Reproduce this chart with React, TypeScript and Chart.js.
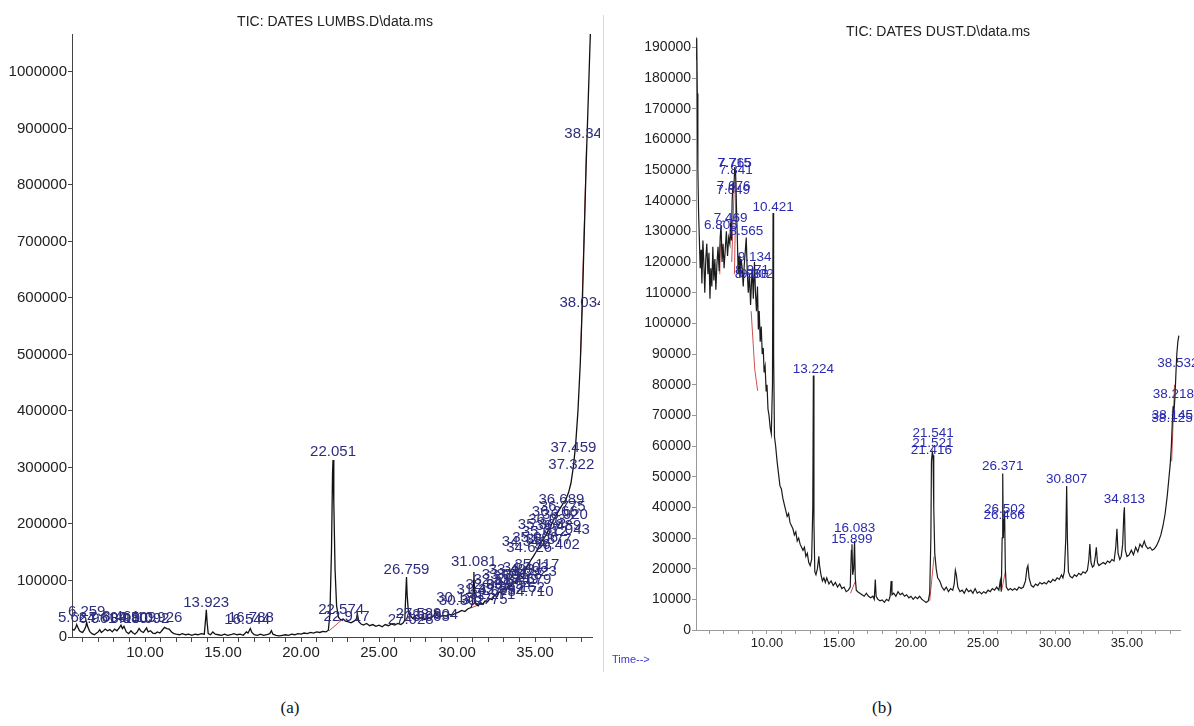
import React, { useEffect, useRef } from "react";
import { Chart, registerables } from "chart.js";
Chart.register(...registerables);

// ---------- tick values ----------
const lumbsYTicks = [0, 100000, 200000, 300000, 400000, 500000, 600000, 700000, 800000, 900000, 1000000];
const dustYTicks = [0, 10000, 20000, 30000, 40000, 50000, 60000, 70000, 80000, 90000, 100000, 110000, 120000,
  130000, 140000, 150000, 160000, 170000, 180000, 190000];
const timeTicks = [6, 7, 8, 9, 10, 11, 12, 13, 14, 15, 16, 17, 18, 19, 20, 21, 22, 23, 24, 25, 26, 27, 28, 29,
  30, 31, 32, 33, 34, 35, 36, 37, 38];
const timeLabelled = [10, 15, 20, 25, 30, 35];

// ---------- (a) TIC: DATES LUMBS ----------
const lumbsTitle = "TIC: DATES LUMBS.D\\data.ms";
const lumbsTrace: [number, number][] = [
  [5.32, 14000], [5.45, 12000], [5.55, 16000], [5.62, 22000], [5.7, 17000], [5.8, 11000], [5.9, 9000],
  [6.0, 8000], [6.1, 12000], [6.2, 18000], [6.26, 26000], [6.33, 18000], [6.45, 10000], [6.6, 6000],
  [6.75, 4000], [6.9, 7000], [7.0, 9000], [7.1, 13000], [7.2, 8000], [7.3, 10000], [7.45, 14000],
  [7.6, 11000], [7.75, 13000], [7.9, 9000], [8.05, 14000], [8.2, 11000], [8.35, 16000], [8.46, 21000],
  [8.55, 15000], [8.65, 19000], [8.8, 9000], [8.95, 6000], [9.1, 11000], [9.2, 8000], [9.35, 5000],
  [9.5, 9000], [9.62, 15000], [9.75, 10000], [9.9, 8000], [10.0, 12000], [10.1, 16000], [10.2, 9000],
  [10.35, 11000], [10.5, 7000], [10.65, 6000], [10.8, 9000], [10.95, 7000], [11.1, 12000], [11.25, 17000],
  [11.4, 15000], [11.55, 14000], [11.7, 9000], [11.85, 6000], [12.0, 5000], [12.2, 4000], [12.4, 6000],
  [12.6, 4000], [12.8, 5000], [13.0, 3000], [13.2, 5000], [13.4, 4000], [13.6, 6000], [13.8, 5000],
  [13.88, 30000], [13.93, 48000], [13.98, 26000], [14.05, 6000], [14.2, 4000], [14.35, 9000], [14.5, 5000],
  [14.7, 4000], [14.9, 3000], [15.1, 5000], [15.3, 3000], [15.5, 4000], [15.7, 6000], [15.9, 4000],
  [16.1, 5000], [16.3, 3000], [16.5, 9000], [16.6, 7000], [16.75, 15000], [16.85, 8000], [17.0, 4000],
  [17.2, 3000], [17.4, 5000], [17.6, 3000], [17.8, 4000], [18.0, 6000], [18.1, 11000], [18.2, 5000],
  [18.4, 3000], [18.6, 2000], [18.8, 3000], [19.0, 4000], [19.2, 3000], [19.4, 5000], [19.6, 4000],
  [19.8, 6000], [20.0, 5000], [20.2, 7000], [20.4, 6000], [20.6, 8000], [20.8, 7000], [21.0, 9000],
  [21.2, 8000], [21.4, 10000], [21.6, 9000], [21.75, 12000], [21.85, 40000], [21.95, 150000],
  [22.02, 290000], [22.05, 313000], [22.1, 240000], [22.18, 120000], [22.28, 55000], [22.4, 35000],
  [22.55, 30000], [22.7, 32000], [22.85, 28000], [23.0, 27000], [23.2, 25000], [23.4, 28000],
  [23.55, 32000], [23.62, 40000], [23.7, 27000], [23.85, 23000], [24.0, 21000], [24.2, 24000],
  [24.4, 20000], [24.6, 22000], [24.8, 19000], [25.0, 21000], [25.2, 18000], [25.4, 22000], [25.6, 20000],
  [25.8, 23000], [26.0, 21000], [26.2, 24000], [26.4, 22000], [26.55, 25000], [26.65, 30000],
  [26.72, 80000], [26.76, 106000], [26.8, 75000], [26.88, 45000], [27.0, 38000], [27.15, 33000],
  [27.3, 35000], [27.5, 32000], [27.7, 34000], [27.9, 31000], [28.1, 33000], [28.3, 35000], [28.5, 37000],
  [28.62, 45000], [28.7, 38000], [28.9, 36000], [29.1, 38000], [29.3, 37000], [29.5, 40000], [29.7, 39000],
  [29.9, 42000], [30.1, 44000], [30.3, 47000], [30.5, 45000], [30.7, 50000], [30.9, 52000], [31.0, 60000],
  [31.06, 100000], [31.08, 115000], [31.12, 80000], [31.2, 58000], [31.35, 55000], [31.5, 61000],
  [31.65, 58000], [31.8, 64000], [31.95, 62000], [32.1, 68000], [32.25, 66000], [32.4, 74000],
  [32.55, 71000], [32.7, 80000], [32.85, 77000], [33.0, 86000], [33.15, 83000], [33.3, 92000],
  [33.45, 89000], [33.6, 99000], [33.75, 96000], [33.9, 106000], [34.05, 110000], [34.2, 105000],
  [34.35, 115000], [34.45, 122000], [34.6, 130000], [34.75, 137000], [34.9, 143000], [35.05, 150000],
  [35.2, 158000], [35.35, 166000], [35.5, 172000], [35.65, 178000], [35.8, 186000], [35.95, 193000],
  [36.1, 202000], [36.25, 210000], [36.4, 218000], [36.55, 225000], [36.7, 232000], [36.85, 238000],
  [37.0, 245000], [37.15, 256000], [37.3, 272000], [37.45, 300000], [37.6, 340000], [37.75, 400000],
  [37.9, 485000], [38.03, 590000], [38.12, 680000], [38.2, 760000], [38.28, 840000], [38.35, 900000],
  [38.42, 960000], [38.5, 1030000], [38.56, 1080000],
];
const lumbsBaselines: [number, number | null][] = [
  [21.8, 11000], [22.6, 30000], [22.61, null],
  [26.68, 28000], [27.05, 37000], [27.06, null],
  [30.95, 52000], [31.3, 56000], [31.31, null],
  [37.92, 500000], [38.3, 870000],
];
const lumbsPeakLabels: [number, number, string][] = [
  [5.624, 33600, "5.624"], [6.259, 44200, "6.259"], [6.961, 31900, "6.961"], [7.604, 33600, "7.604"],
  [8.461, 35400, "8.461"], [8.98, 31900, "8.980"], [9.509, 33600, "9.509"], [10.092, 31900, "10.092"],
  [10.926, 33600, "10.926"],
  [13.923, 60200, "13.923"], [16.544, 30100, "16.544"], [16.788, 33600, "16.788"],
  [22.051, 327500, "22.051"], [22.574, 47800, "22.574"], [22.917, 35400, "22.917"],
  [26.759, 118600, "26.759"],
  [27.028, 30100, "27.028"], [27.529, 40700, "27.529"], [28.063, 35400, "28.063"], [28.604, 38900, "28.604"],
  [30.133, 69000, "30.133"], [30.302, 63700, "30.302"], [31.081, 132700, "31.081"],
  [31.437, 83200, "31.437"], [31.775, 65500, "31.775"], [32.009, 92000, "32.009"], [32.271, 74300, "32.271"],
  [32.518, 100900, "32.518"], [32.832, 83200, "32.832"], [33.061, 109700, "33.061"], [33.294, 92000, "33.294"],
  [33.493, 118600, "33.493"], [33.749, 100900, "33.749"], [33.978, 109700, "33.978"], [34.152, 86700, "34.152"],
  [34.403, 122100, "34.403"], [34.579, 100900, "34.579"], [34.71, 79600, "34.710"], [34.923, 115000, "34.923"],
  [35.117, 127400, "35.117"],
  [34.341, 168200, "34.341"], [34.626, 157500, "34.626"], [35.006, 175200, "35.006"], [35.366, 198200, "35.366"],
  [35.612, 185900, "35.612"], [35.877, 171700, "35.877"], [36.032, 207100, "36.032"], [36.266, 221300, "36.266"],
  [36.402, 162800, "36.402"], [36.489, 196500, "36.489"], [36.775, 230100, "36.775"], [36.92, 215900, "36.920"],
  [37.043, 189400, "37.043"], [36.689, 242500, "36.689"],
  [37.322, 304400, "37.322"], [37.459, 334500, "37.459"], [38.034, 591200, "38.034"], [38.348, 890000, "38.348"],
];

// ---------- (b) TIC: DATES DUST ----------
const dustTitle = "TIC: DATES DUST.D\\data.ms";
const dustTrace: [number, number][] = [
  [5.08, 186000], [5.12, 193000], [5.16, 175000], [5.2, 150000], [5.25, 136000], [5.3, 128000],
  [5.36, 118000], [5.42, 124000], [5.48, 113000], [5.55, 127000], [5.62, 119000], [5.68, 110000],
  [5.75, 121000], [5.82, 126000], [5.9, 116000], [5.97, 123000], [6.04, 108000], [6.1, 118000],
  [6.17, 112000], [6.24, 125000], [6.31, 114000], [6.38, 121000], [6.45, 111000], [6.52, 119000],
  [6.6, 125000], [6.68, 117000], [6.75, 128000], [6.81, 132000], [6.88, 120000], [6.95, 126000],
  [7.02, 118000], [7.1, 124000], [7.18, 130000], [7.26, 122000], [7.34, 128000], [7.42, 126000],
  [7.47, 133000], [7.53, 127000], [7.58, 140000], [7.64, 146000], [7.7, 144000], [7.76, 151000],
  [7.82, 149000], [7.88, 138000], [7.94, 128000], [8.0, 116000], [8.06, 122000], [8.12, 115000],
  [8.2, 121000], [8.28, 118000], [8.35, 112000], [8.42, 119000], [8.5, 124000], [8.56, 128000],
  [8.62, 118000], [8.7, 110000], [8.78, 116000], [8.86, 106000], [8.93, 114000], [8.98, 118000],
  [9.05, 108000], [9.13, 120000], [9.2, 110000], [9.27, 104000], [9.34, 112000], [9.4, 98000],
  [9.46, 104000], [9.53, 94000], [9.6, 99000], [9.67, 90000], [9.74, 92000], [9.8, 84000], [9.87, 86000],
  [9.94, 78000], [10.0, 80000], [10.07, 72000], [10.14, 70000], [10.22, 66000], [10.3, 64000],
  [10.38, 80000], [10.42, 136000], [10.46, 90000], [10.52, 63000], [10.6, 60000], [10.7, 55000],
  [10.8, 51000], [10.9, 47000], [11.0, 46000], [11.1, 43000], [11.2, 41000], [11.3, 39000], [11.4, 37000],
  [11.5, 38000], [11.6, 35000], [11.7, 34000], [11.8, 33000], [11.9, 31000], [12.0, 32000], [12.1, 29000],
  [12.2, 30000], [12.3, 28000], [12.4, 27000], [12.5, 26000], [12.6, 27000], [12.7, 24000], [12.8, 25000],
  [12.9, 22000], [13.0, 21000], [13.1, 23000], [13.18, 40000], [13.22, 83000], [13.26, 35000],
  [13.32, 19000], [13.4, 18000], [13.5, 20000], [13.6, 24000], [13.65, 21000], [13.75, 18000],
  [13.85, 16000], [13.95, 17000], [14.05, 15500], [14.15, 17000], [14.3, 15000], [14.45, 16000],
  [14.6, 14500], [14.75, 15500], [14.9, 14000], [15.05, 15000], [15.2, 13500], [15.35, 14000],
  [15.5, 12500], [15.65, 13000], [15.78, 14000], [15.86, 26000], [15.9, 28000], [15.95, 18000],
  [16.02, 20000], [16.08, 29000], [16.13, 17000], [16.2, 13000], [16.3, 12500], [16.45, 12000],
  [16.6, 11500], [16.75, 11000], [16.9, 12000], [17.05, 11000], [17.2, 10500], [17.35, 11000],
  [17.45, 10000], [17.52, 16500], [17.58, 11000], [17.7, 10000], [17.85, 9500], [18.0, 9800],
  [18.15, 9000], [18.3, 10000], [18.45, 9500], [18.55, 11000], [18.62, 16000], [18.68, 11500],
  [18.8, 12000], [18.95, 11000], [19.1, 12500], [19.25, 11500], [19.4, 12000], [19.55, 11000],
  [19.7, 11500], [19.85, 10500], [20.0, 11000], [20.15, 10000], [20.3, 10800], [20.45, 10200],
  [20.6, 11000], [20.75, 10000], [20.9, 9500], [21.05, 9000], [21.2, 9500], [21.3, 12000],
  [21.38, 30000], [21.42, 55000], [21.48, 58000], [21.53, 57000], [21.58, 40000], [21.65, 25000],
  [21.75, 20000], [21.85, 17000], [22.0, 16000], [22.15, 14000], [22.3, 13000], [22.45, 14000],
  [22.6, 12500], [22.75, 13500], [22.9, 13000], [23.0, 15000], [23.08, 19500], [23.15, 18000],
  [23.25, 14000], [23.4, 12500], [23.55, 13000], [23.7, 12000], [23.85, 13500], [24.0, 12500],
  [24.15, 13000], [24.3, 12000], [24.45, 13500], [24.6, 12000], [24.75, 12500], [24.9, 11800],
  [25.05, 12500], [25.2, 12000], [25.35, 13000], [25.5, 12500], [25.65, 13500], [25.8, 13000],
  [25.95, 14000], [26.1, 13000], [26.2, 16000], [26.27, 12500], [26.33, 30000], [26.37, 51000],
  [26.41, 30000], [26.46, 36000], [26.5, 39000], [26.55, 20000], [26.62, 14000], [26.75, 13000],
  [26.9, 13500], [27.05, 13000], [27.2, 13500], [27.35, 13000], [27.5, 14000], [27.65, 13500],
  [27.8, 14000], [27.95, 16000], [28.05, 20000], [28.12, 21000], [28.2, 17000], [28.35, 14500],
  [28.5, 14000], [28.65, 15000], [28.8, 14500], [28.95, 15500], [29.1, 15000], [29.25, 15500],
  [29.4, 15000], [29.55, 16000], [29.7, 15500], [29.85, 16500], [30.0, 16000], [30.15, 17000],
  [30.3, 16500], [30.45, 18000], [30.55, 17000], [30.65, 19000], [30.75, 30000], [30.81, 47000],
  [30.86, 30000], [30.93, 19000], [31.05, 17500], [31.2, 17000], [31.35, 18000], [31.5, 17500],
  [31.65, 18500], [31.8, 18000], [31.95, 19000], [32.1, 18500], [32.25, 19500], [32.35, 23000],
  [32.42, 28000], [32.5, 22000], [32.6, 20500], [32.7, 21000], [32.8, 24000], [32.87, 27000],
  [32.95, 22000], [33.05, 21000], [33.2, 21500], [33.35, 22000], [33.5, 21500], [33.65, 22500],
  [33.8, 22000], [33.95, 23000], [34.1, 22500], [34.22, 27000], [34.3, 33000], [34.38, 25000],
  [34.5, 23000], [34.6, 24000], [34.7, 28000], [34.78, 38000], [34.82, 40000], [34.88, 26000],
  [35.0, 24000], [35.15, 24500], [35.3, 26000], [35.45, 24500], [35.6, 27000], [35.75, 25500],
  [35.9, 28000], [36.05, 27000], [36.2, 29000], [36.3, 27500], [36.45, 26500], [36.6, 27000],
  [36.75, 26000], [36.9, 26500], [37.05, 27500], [37.2, 29000], [37.35, 31000], [37.5, 34000],
  [37.65, 38000], [37.8, 44000], [37.9, 49000], [38.0, 54000], [38.08, 60000], [38.14, 67000],
  [38.2, 73000], [38.26, 71000], [38.33, 76000], [38.4, 84000], [38.46, 90000], [38.53, 94000],
  [38.6, 96000],
];
const dustBaselines: [number, number | null][] = [
  [6.72, 116000], [6.76, 126000], [6.77, null],
  [7.55, 120000], [7.72, 144000], [7.73, null],
  [7.74, 116000], [7.85, 146000], [7.86, null],
  [8.9, 104000], [9.15, 85000], [9.35, 78000], [9.36, null],
  [15.8, 12000], [16.15, 16000], [16.16, null],
  [21.3, 9500], [21.6, 24000], [21.61, null],
  [26.3, 13000], [26.55, 19000], [26.56, null],
  [38.1, 55000], [38.3, 80000],
];
const dustPeakLabels: [number, number, string][] = [
  [6.805, 132000, "6.805"], [7.469, 134300, "7.469"], [7.715, 152300, "7.715"], [7.765, 152300, "7.765"],
  [7.841, 150000, "7.841"], [7.676, 144800, "7.676"], [7.649, 143500, "7.649"], [8.565, 130100, "8.565"],
  [10.421, 137900, "10.421"], [9.134, 121600, "9.134"], [8.971, 117400, "8.971"], [8.93, 116000, "8.930"],
  [9.302, 116000, "9.302"],
  [13.224, 85100, "13.224"], [16.083, 33300, "16.083"], [15.899, 29700, "15.899"],
  [21.541, 64200, "21.541"], [21.521, 61000, "21.521"], [21.416, 58700, "21.416"],
  [26.371, 53500, "26.371"], [26.502, 39500, "26.502"], [26.466, 37500, "26.466"],
  [30.807, 49200, "30.807"], [34.813, 42700, "34.813"],
  [38.532, 87100, "38.532"], [38.218, 76900, "38.218"], [38.145, 70100, "38.145"], [38.125, 69100, "38.125"],
];

const SANS = '"Liberation Sans", Arial, sans-serif';

function toPoints(arr: [number, number | null][]) {
  return arr.map(([x, y]) => ({ x, y }));
}

function makeTextPlugin(id: string, labels: [number, number, string][], font: string, color: string, extras: (ctx: CanvasRenderingContext2D) => void) {
  return {
    id,
    afterDatasetsDraw(chart: any) {
      const { ctx, scales } = chart;
      ctx.save();
      ctx.font = font;
      ctx.fillStyle = color;
      ctx.textAlign = "center";
      ctx.textBaseline = "middle";
      for (const [t, v, txt] of labels) {
        ctx.fillText(txt, scales.x.getPixelForValue(t), scales.y.getPixelForValue(v));
      }
      ctx.restore();
      ctx.save();
      extras(ctx);
      ctx.restore();
    },
  };
}

const setTicks = (values: number[]) => (s: any) => {
  s.ticks = values.map((value) => ({ value }));
};
const timeLabel = (v: number) => (timeLabelled.includes(v) ? v.toFixed(2) : "");

function leftConfig(): any {
  return {
    type: "line",
    data: {
      datasets: [
        { data: toPoints(lumbsTrace), borderColor: "#111", borderWidth: 1.3, pointRadius: 0, tension: 0 },
        { data: toPoints(lumbsBaselines), borderColor: "#d04848", borderWidth: 1, pointRadius: 0, spanGaps: false },
      ],
    },
    options: {
      animation: false,
      responsive: false,
      events: [],
      layout: { padding: { left: 0, top: 34, right: 8, bottom: 0 } },
      plugins: { legend: { display: false }, tooltip: { enabled: false } },
      scales: {
        x: {
          type: "linear",
          min: 5.32,
          max: 38.65,
          afterBuildTicks: setTicks(timeTicks),
          afterFit: (s: any) => { s.height = 43; },
          grid: { drawOnChartArea: false, tickLength: 5, color: "#444" },
          border: { color: "#444", width: 1 },
          ticks: {
            autoSkip: false, maxRotation: 0, padding: 2,
            color: "#222", font: { family: SANS, size: 15 }, callback: timeLabel,
          },
        },
        y: {
          type: "linear",
          min: 0,
          max: 1067000,
          afterBuildTicks: setTicks(lumbsYTicks),
          afterFit: (s: any) => { s.width = 72; },
          grid: { drawOnChartArea: false, tickLength: 4, color: "#444" },
          border: { color: "#444", width: 1 },
          ticks: {
            autoSkip: false, padding: 1,
            color: "#222", font: { family: SANS, size: 15 },
            callback: (v: number) => String(v),
          },
        },
      },
    },
    plugins: [
      makeTextPlugin("lumbsLabels", lumbsPeakLabels, `15px ${SANS}`, "#2d2d7d", (ctx) => {
        ctx.font = `14px ${SANS}`;
        ctx.fillStyle = "#222";
        ctx.textAlign = "center";
        ctx.textBaseline = "middle";
        ctx.fillText(lumbsTitle, 335, 22);
      }),
    ],
  };
}

function rightConfig(): any {
  return {
    type: "line",
    data: {
      datasets: [
        { data: toPoints(dustTrace), borderColor: "#1a1a1a", borderWidth: 1.2, pointRadius: 0, tension: 0 },
        { data: toPoints(dustBaselines), borderColor: "#d05050", borderWidth: 1, pointRadius: 0, spanGaps: false },
      ],
    },
    options: {
      animation: false,
      responsive: false,
      events: [],
      layout: { padding: { left: 0, top: 37, right: 14, bottom: 0 } },
      plugins: { legend: { display: false }, tooltip: { enabled: false } },
      scales: {
        x: {
          type: "linear",
          min: 5.07,
          max: 38.68,
          afterBuildTicks: setTicks(timeTicks),
          afterFit: (s: any) => { s.height = 50; },
          grid: { drawOnChartArea: false, tickLength: 4, color: "#999" },
          border: { color: "#999", width: 1 },
          ticks: {
            autoSkip: false, maxRotation: 0, padding: 2,
            color: "#222", font: { family: SANS, size: 13 }, callback: timeLabel,
          },
        },
        y: {
          type: "linear",
          min: 0,
          max: 193400,
          afterBuildTicks: setTicks(dustYTicks),
          afterFit: (s: any) => { s.width = 96; },
          grid: { drawOnChartArea: false, tickLength: 4, color: "#999" },
          border: { color: "#999", width: 1 },
          ticks: {
            autoSkip: false, padding: 1,
            color: "#222", font: { family: SANS, size: 14 },
            callback: (v: number) => String(v),
          },
        },
      },
    },
    plugins: [
      makeTextPlugin("dustLabels", dustPeakLabels, `13.5px ${SANS}`, "#2b2bb0", (ctx) => {
        ctx.font = `14px ${SANS}`;
        ctx.fillStyle = "#222";
        ctx.textAlign = "center";
        ctx.textBaseline = "middle";
        ctx.fillText(dustTitle, 338, 32);
        ctx.font = `11px ${SANS}`;
        ctx.fillStyle = "#3a3ad0";
        ctx.textAlign = "left";
        ctx.fillText("Time-->", 12, 660);
        ctx.strokeStyle = "#d8d8d8";
        ctx.lineWidth = 1;
        ctx.beginPath();
        ctx.moveTo(3.5, 15);
        ctx.lineTo(3.5, 672);
        ctx.stroke();
      }),
    ],
  };
}

export default function App() {
  const leftRef = useRef<HTMLCanvasElement>(null);
  const rightRef = useRef<HTMLCanvasElement>(null);
  useEffect(() => {
    const c1 = new Chart(leftRef.current as HTMLCanvasElement, leftConfig());
    const c2 = new Chart(rightRef.current as HTMLCanvasElement, rightConfig());
    return () => {
      c1.destroy();
      c2.destroy();
    };
  }, []);
  const caption: React.CSSProperties = {
    position: "absolute",
    top: 697,
    width: 100,
    textAlign: "center",
    fontFamily: '"Liberation Serif", "Times New Roman", serif',
    fontSize: 17,
    lineHeight: "22px",
    color: "#111",
  };
  return (
    <div style={{ position: "absolute", left: 0, top: 0, width: 1194, height: 726, background: "#fff", overflow: "hidden" }}>
      <canvas ref={leftRef} width={600} height={680} style={{ position: "absolute", left: 0, top: 0, width: 600, height: 680 }} />
      <canvas ref={rightRef} width={594} height={680} style={{ position: "absolute", left: 600, top: 0, width: 594, height: 680 }} />
      <div style={{ ...caption, left: 240 }}>(a)</div>
      <div style={{ ...caption, left: 832 }}>(b)</div>
    </div>
  );
}
